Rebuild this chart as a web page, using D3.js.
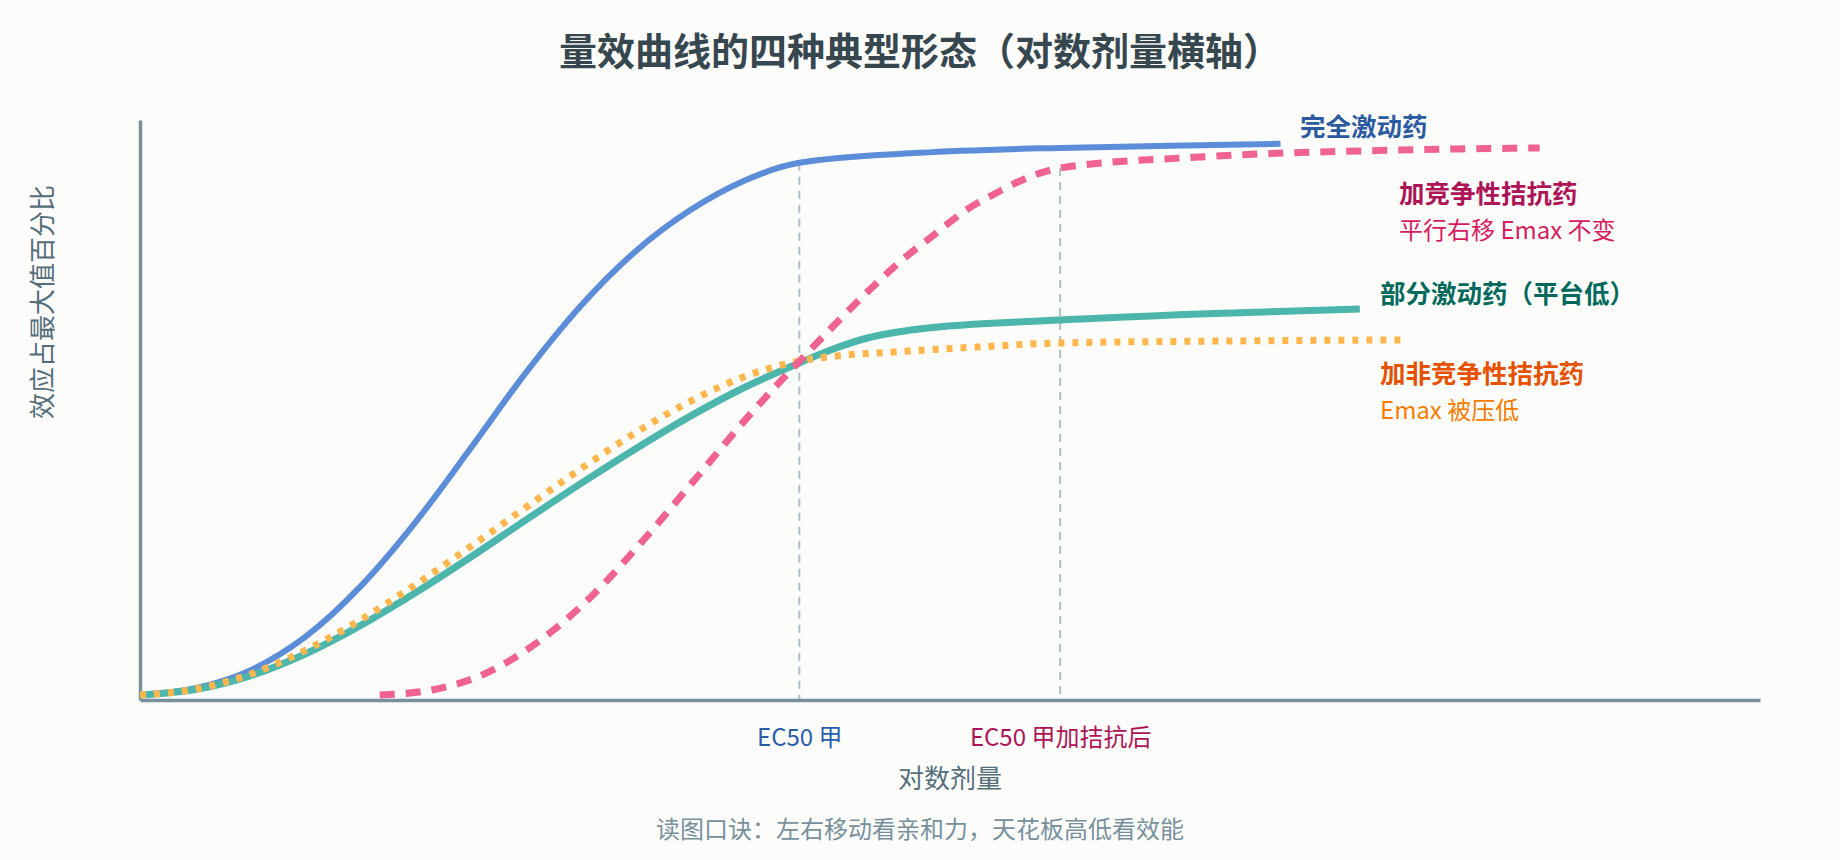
<!DOCTYPE html>
<html>
<head>
<meta charset="utf-8">
<script src="https://cdn.jsdelivr.net/npm/d3@7/dist/d3.min.js"></script>
<style>
  html, body { margin: 0; padding: 0; background: #fcfcfa; }
  svg { display: block; font-family: "Noto Sans CJK SC", "Noto Sans", sans-serif; }
</style>
</head>
<body>
<svg id="chart" width="1840" height="860"></svg>
<script>
// ---- data (x: relative log dose, y: % of max effect) ----
const fullAgonistX = [0.00,0.34,0.68,1.02,1.36,1.70,2.04,2.38,2.72,3.06,3.40,3.73,4.07,4.81,5.68,6.36,7.04];
const fullAgonistY = [0.89,2.09,5.29,11.27,20.26,31.74,44.92,58.39,70.38,80.17,87.56,92.76,95.95,97.73,98.62,98.98,99.34];

const partialAgonistX = [0.00,0.34,0.68,1.02,1.36,1.70,2.04,2.38,2.72,3.06,3.40,3.73,4.07,4.28,4.49,4.81,5.68,6.54,7.53];
const partialAgonistY = [0.89,1.88,4.32,8.22,13.29,19.15,25.49,32.12,38.65,44.89,50.75,55.82,60.21,62.70,64.66,66.27,67.87,68.95,69.84];

const nonCompX = [0.00,0.34,0.68,1.02,1.36,1.70,2.04,2.38,2.72,3.06,3.40,3.73,4.07,4.30,4.65,5.17,5.68,6.73,7.78];
const nonCompY = [0.89,1.96,4.59,8.86,14.29,20.59,27.38,34.37,41.26,47.76,53.39,57.75,60.55,61.45,62.16,63.05,63.77,64.13,64.31];

const compX = [1.48,1.81,2.13,2.45,2.78,3.10,3.43,3.75,4.07,4.28,4.49,4.69,4.90,5.10,5.31,5.49,5.68,6.54,7.78,8.64];
const compY = [0.89,1.84,4.70,10.22,18.31,28.31,39.54,50.49,60.49,66.80,72.88,78.24,83.06,87.52,90.92,93.42,95.03,96.99,98.24,98.60];

const tickValues = [4.07, 5.68];
const tickLabels = ["EC50 甲", "EC50 甲加拮抗后"];
const guideTops = [95.95, 95.03];

const seriesNames = ["完全激动药", "部分激动药（平台低）", "加非竞争性拮抗药", "加竞争性拮抗药"];
const subLabels = ["平行右移 Emax 不变", "Emax 被压低"];

const titleText = "量效曲线的四种典型形态（对数剂量横轴）";
const xTitle = "对数剂量";
const yTitle = "效应占最大值百分比";
const footText = "读图口诀：左右移动看亲和力，天花板高低看效能";

// ---- build ----
const svg = d3.select("#chart");
const x = d3.scaleLinear().domain([0, 10]).range([140, 1760]);
const y = d3.scaleLinear().domain([0, 103.6]).range([700, 120]);

const zip = (xs, ys) => xs.map((v, i) => [v, ys[i]]);
const line = d3.line().x(d => x(d[0])).y(d => y(d[1])).curve(d3.curveMonotoneX);

// guides
svg.append("g").selectAll("line").data(tickValues).join("line")
  .attr("x1", d => x(d)).attr("x2", d => x(d))
  .attr("y1", (d, i) => y(guideTops[i])).attr("y2", y(0))
  .attr("stroke", "#b0bec5").attr("stroke-width", 2).attr("stroke-dasharray", "8 6");

// axes
const xAxis = svg.append("g").attr("transform", `translate(0,${y(0)})`)
  .call(d3.axisBottom(x).tickValues(tickValues).tickSize(0).tickSizeOuter(0)
    .tickFormat((d, i) => tickLabels[i]));
xAxis.select(".domain").attr("stroke", "#78909c").attr("stroke-width", 3.5);
xAxis.selectAll(".tick text")
  .attr("y", 35).attr("dy", null).attr("dominant-baseline", "central")
  .attr("font-size", 24).attr("font-family", "Noto Sans CJK SC")
  .attr("fill", (d, i) => i === 0 ? "#2a5ea8" : "#ad1457");

const yAxis = svg.append("g").attr("transform", `translate(${x(0)},0)`)
  .call(d3.axisLeft(y).tickValues([]).tickSize(0).tickSizeOuter(0));
yAxis.select(".domain").attr("stroke", "#78909c").attr("stroke-width", 3.5);

// curves
const curves = [
  {data: zip(fullAgonistX, fullAgonistY), color: "#5b8dd9", w: 6, dash: null},
  {data: zip(partialAgonistX, partialAgonistY), color: "#4db6ac", w: 7, dash: null},
  {data: zip(nonCompX, nonCompY), color: "#ffb74d", w: 7, dash: "6 8"},
  {data: zip(compX, compY), color: "#f06292", w: 7, dash: "15 11"}
];
svg.append("g").selectAll("path").data(curves).join("path")
  .attr("d", d => line(d.data))
  .attr("fill", "none")
  .attr("stroke", d => d.color)
  .attr("stroke-width", d => d.w)
  .attr("stroke-dasharray", d => d.dash);

// labels
const lab = svg.append("g").attr("dominant-baseline", "central");
lab.append("text").attr("x", 1300).attr("y", 124).attr("font-size", 25.5).attr("font-weight", 700)
  .attr("fill", "#2c5aa0").text(seriesNames[0]);
lab.append("text").attr("x", 1399).attr("y", 191).attr("font-size", 25.5).attr("font-weight", 700)
  .attr("fill", "#ad1457").text(seriesNames[3]);
lab.append("text").attr("x", 1399).attr("y", 228).attr("font-size", 24)
  .attr("fill", "#d81b60").text(subLabels[0]);
lab.append("text").attr("x", 1380).attr("y", 291).attr("font-size", 25.5).attr("font-weight", 700)
  .attr("fill", "#00695c").text(seriesNames[1]);
lab.append("text").attr("x", 1380).attr("y", 371).attr("font-size", 25.5).attr("font-weight", 700)
  .attr("fill", "#e65100").text(seriesNames[2]);
lab.append("text").attr("x", 1380).attr("y", 408).attr("font-size", 24)
  .attr("fill", "#f57c00").text(subLabels[1]);

// titles
svg.append("text").attr("x", 920).attr("y", 48).attr("text-anchor", "middle")
  .attr("dominant-baseline", "central").attr("font-size", 38).attr("font-weight", 700)
  .attr("fill", "#37474f").text(titleText);
svg.append("text").attr("x", 950).attr("y", 776).attr("text-anchor", "middle")
  .attr("dominant-baseline", "central").attr("font-size", 26)
  .attr("fill", "#546e7a").text(xTitle);
svg.append("text").attr("transform", "translate(40,302) rotate(-90)").attr("text-anchor", "middle")
  .attr("dominant-baseline", "central").attr("font-size", 26)
  .attr("fill", "#546e7a").text(yTitle);
svg.append("text").attr("x", 920).attr("y", 827).attr("text-anchor", "middle")
  .attr("dominant-baseline", "central").attr("font-size", 24)
  .attr("fill", "#78909c").text(footText);
</script>
</body>
</html>
